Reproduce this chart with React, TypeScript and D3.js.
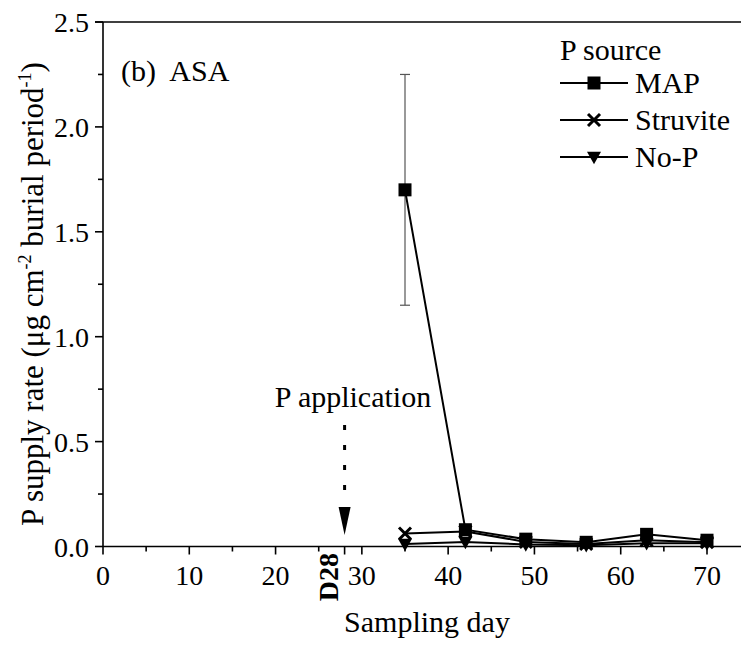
import React from "react";
import * as d3 from "d3";

const days = [35, 42, 49, 56, 63, 70];
const mapValues = [1.7, 0.08, 0.035, 0.02, 0.058, 0.03];
const mapErrors = [0.55, 0, 0, 0, 0, 0];
const struviteValues = [0.062, 0.072, 0.022, 0.012, 0.03, 0.02];
const noPValues = [0.012, 0.022, 0.01, 0.006, 0.016, 0.015];
const xTicks = [0, 10, 20, 30, 40, 50, 60, 70];
const xMinor = [5, 15, 25, 35, 45, 55, 65];
const yTicks = [0, 0.5, 1.0, 1.5, 2.0, 2.5];
const yMinor = [0.25, 0.75, 1.25, 1.75, 2.25];
const seriesNames = ["MAP", "Struvite", "No-P"];

const W = 741;
const H = 645;
const left = 103;
const bottom = 546.5;
const top = 22;
const right = 741;

const FONT = '"Liberation Serif", "Times New Roman", Times, serif';

function Marker({ kind, x, y }: { kind: string; x: number; y: number }) {
  if (kind === "MAP") {
    return <rect x={x - 6.5} y={y - 6.5} width={13} height={13} fill="#000" />;
  }
  if (kind === "Struvite") {
    const s = 6;
    return (
      <g stroke="#000" strokeWidth={3}>
        <line x1={x - s} y1={y - s} x2={x + s} y2={y + s} />
        <line x1={x - s} y1={y + s} x2={x + s} y2={y - s} />
      </g>
    );
  }
  const s = 7;
  return (
    <path
      d={`M${x - s},${y - s * 0.75} L${x + s},${y - s * 0.75} L${x},${y + s * 1.05} Z`}
      fill="#000"
    />
  );
}

export default function App() {
  const x = d3.scaleLinear().domain([0, 70]).range([left, 707]);
  const y = d3.scaleLinear().domain([0, 2.5]).range([bottom, top]);
  const line = d3
    .line<number>()
    .x((_, i) => x(days[i]))
    .y((d) => y(d));

  const series = [
    { name: "MAP", values: mapValues },
    { name: "Struvite", values: struviteValues },
    { name: "No-P", values: noPValues },
  ];

  const arrowX = x(28);

  return (
    <svg
      width={W}
      height={H}
      style={{ position: "absolute", left: 0, top: 0, background: "#fff", fontFamily: FONT }}
    >
      <rect width={W} height={H} fill="#fff" />
      {/* error bars */}
      {days.map((d, i) =>
        mapErrors[i] > 0 ? (
          <g key={"e" + i} stroke="#555" strokeWidth={1.2}>
            <line x1={x(d)} x2={x(d)} y1={y(mapValues[i] + mapErrors[i])} y2={y(mapValues[i] - mapErrors[i])} />
            <line x1={x(d) - 5} x2={x(d) + 5} y1={y(mapValues[i] + mapErrors[i])} y2={y(mapValues[i] + mapErrors[i])} />
            <line x1={x(d) - 5} x2={x(d) + 5} y1={y(mapValues[i] - mapErrors[i])} y2={y(mapValues[i] - mapErrors[i])} />
          </g>
        ) : null
      )}
      {/* lines */}
      {series.map((s) => (
        <path key={"l" + s.name} d={line(s.values) || ""} fill="none" stroke="#000" strokeWidth={2} />
      ))}
      {/* markers */}
      {series.map((s) =>
        s.values.map((v, i) => <Marker key={s.name + i} kind={s.name} x={x(days[i])} y={y(v)} />)
      )}

      {/* axes */}
      <g stroke="#000" strokeWidth={1.6}>
        <line x1={left} x2={right} y1={bottom} y2={bottom} />
        <line x1={left} x2={left} y1={bottom} y2={top} />
        <line x1={left - 8} x2={right} y1={top} y2={top} />
        {xTicks.map((t) => (
          <line key={"xt" + t} x1={x(t)} x2={x(t)} y1={bottom} y2={bottom + 8} />
        ))}
        {xMinor.map((t) => (
          <line key={"xm" + t} x1={x(t)} x2={x(t)} y1={bottom} y2={bottom + 5} />
        ))}
        <line x1={x(28)} x2={x(28)} y1={bottom} y2={bottom + 8} />
        {yTicks.map((t) => (
          <line key={"yt" + t} x1={left - 8} x2={left} y1={y(t)} y2={y(t)} />
        ))}
        {yMinor.map((t) => (
          <line key={"ym" + t} x1={left - 5} x2={left} y1={y(t)} y2={y(t)} />
        ))}
      </g>
      {xTicks.map((t) => (
        <text key={"xl" + t} x={x(t)} y={585} fontSize={28} textAnchor="middle">
          {t}
        </text>
      ))}
      {yTicks.map((t) => (
        <text key={"yl" + t} x={89} y={y(t) + 10} fontSize={28} textAnchor="end">
          {t.toFixed(1)}
        </text>
      ))}
      <text
        transform={`translate(338,553) rotate(-90)`}
        fontSize={28}
        fontWeight="bold"
        textAnchor="end"
      >
        D28
      </text>
      <text x={427} y={632} fontSize={30} textAnchor="middle">
        Sampling day
      </text>
      <text transform={`translate(43,294) rotate(-90)`} fontSize={31} textAnchor="middle">
        P supply rate (μg cm
        <tspan dy={-12} fontSize={18}>-2</tspan>
        <tspan dy={12}> burial period</tspan>
        <tspan dy={-12} fontSize={18}>-1</tspan>
        <tspan dy={12}>)</tspan>
      </text>
      <text x={121} y={81} fontSize={30} xmlSpace="preserve">
        (b)  ASA
      </text>

      {/* P application arrow */}
      <text x={353} y={407} fontSize={30} textAnchor="middle">
        P application
      </text>
      <line x1={arrowX} x2={arrowX} y1={425} y2={505} stroke="#000" strokeWidth={3} strokeDasharray="5,15" />
      <path d={`M${arrowX - 6},507 L${arrowX + 6},507 L${arrowX},535 Z`} fill="#000" />

      {/* legend */}
      <text x={560} y={60} fontSize={30}>
        P source
      </text>
      {seriesNames.map((n, i) => {
        const ly = 83 + i * 37;
        return (
          <g key={"lg" + n}>
            <line x1={560} x2={628} y1={ly} y2={ly} stroke="#000" strokeWidth={2} />
            <Marker kind={n} x={594} y={ly} />
            <text x={635} y={ly + 10} fontSize={30}>
              {n}
            </text>
          </g>
        );
      })}
    </svg>
  );
}
